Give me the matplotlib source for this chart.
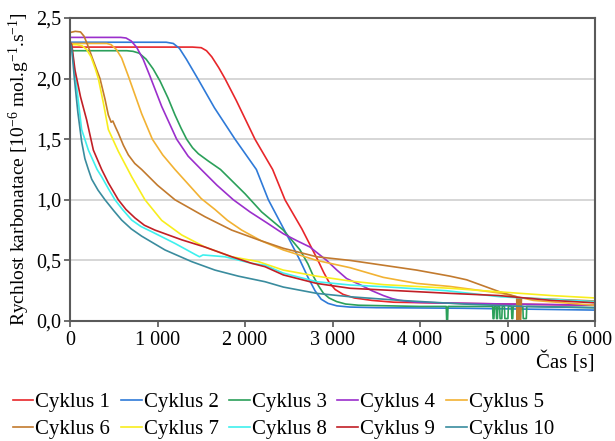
import numpy as np
import matplotlib
matplotlib.use("Agg")
import matplotlib.pyplot as plt
from matplotlib.ticker import FuncFormatter
from matplotlib.transforms import ScaledTranslation

plt.rcParams['font.family'] = ['Liberation Serif', 'DejaVu Serif']
plt.rcParams['mathtext.fontset'] = 'custom'
plt.rcParams['mathtext.rm'] = 'Liberation Serif'
plt.rcParams['mathtext.it'] = 'Liberation Serif:italic'

# time [s] / rate [1e-6 mol/g/s], one pair per cycle
c1_t = [0, 1400, 1500, 1560, 1620, 1700, 1771, 1900, 2114, 2316, 2457, 2650, 2834, 2900, 2960, 3030, 3120, 3250, 3450, 3700, 4500, 6000]
c1_v = [2.26, 2.26, 2.255, 2.23, 2.18, 2.09, 2.0, 1.82, 1.5, 1.25, 1.0, 0.76, 0.5, 0.40, 0.32, 0.26, 0.22, 0.19, 0.17, 0.155, 0.145, 0.13]

c2_t = [0, 1100, 1180, 1250, 1330, 1460, 1650, 1886, 2130, 2267, 2450, 2629, 2720, 2800, 2870, 2950, 3050, 3200, 3500, 4500, 6000]
c2_v = [2.30, 2.30, 2.29, 2.25, 2.16, 2.0, 1.76, 1.5, 1.25, 1.0, 0.75, 0.5, 0.36, 0.25, 0.18, 0.145, 0.125, 0.115, 0.11, 0.105, 0.09]

c3_t = [0, 650, 720, 790, 870, 950, 1029, 1120, 1200, 1270, 1333, 1400, 1467, 1580, 1720, 2000, 2190, 2438, 2629, 2720, 2781, 2840, 2895,
        2960, 3048, 3150, 3300, 4000,
        4300, 4305, 4315, 4320, 4830, 4835, 4845, 4850, 4870, 4875, 4885, 4890, 4910, 4915, 4935, 4940, 4965, 4970,
        5005, 5010, 5045, 5050, 5060, 5065, 5175, 5180, 5215, 5220, 6000]
c3_v = [2.23, 2.23, 2.225, 2.21, 2.16, 2.08, 1.98, 1.84, 1.70, 1.59, 1.5, 1.43, 1.38, 1.32, 1.25, 1.05, 0.90, 0.75, 0.586, 0.47, 0.37, 0.29, 0.23,
        0.19, 0.16, 0.14, 0.13, 0.12,
        0.12, 0.0, 0.0, 0.12, 0.12, 0.02, 0.02, 0.12, 0.12, 0.02, 0.02, 0.12, 0.12, 0.02, 0.02, 0.12, 0.12, 0.02,
        0.02, 0.12, 0.12, 0.02, 0.02, 0.12, 0.12, 0.02, 0.02, 0.12, 0.11]

c4_t = [0, 580, 640, 700, 760, 836, 914, 1048, 1219, 1350, 1505, 1680, 1867, 2057, 2250, 2438, 2600, 2743, 2933, 3050, 3162, 3314, 3450,
        3581, 3680, 3771, 3950, 4200, 5000, 6000]
c4_v = [2.34, 2.34, 2.335, 2.31, 2.26, 2.16, 2.02, 1.77, 1.5, 1.36, 1.246, 1.12, 1.0, 0.90, 0.81, 0.72, 0.66, 0.61, 0.50, 0.42, 0.35, 0.30, 0.25,
        0.21, 0.185, 0.17, 0.155, 0.15, 0.14, 0.13]

c5_t = [0, 420, 470, 530, 590, 667, 819, 941, 1060, 1200, 1350, 1500, 1657, 1800, 1962, 2190, 2438, 2819, 3200, 3581, 3962, 4343, 4914, 5295, 6000]
c5_v = [2.29, 2.29, 2.28, 2.24, 2.17, 2.02, 1.71, 1.5, 1.37, 1.25, 1.13, 1.01, 0.92, 0.83, 0.75, 0.66, 0.586, 0.50, 0.44, 0.36, 0.31, 0.285, 0.23, 0.17, 0.13]

c6_t = [0, 60, 120, 160, 200, 260, 343, 400, 438, 470, 490, 520, 552, 610, 667, 740, 819, 1000, 1200, 1543, 1848, 2152, 2438, 2819, 3200, 3581,
        3962, 4343, 4533, 4914, 5105, 5110, 5120, 5130, 5140, 5150, 5160, 5170, 5500, 6000]
c6_v = [2.38, 2.39, 2.385, 2.35, 2.28, 2.16, 2.0, 1.83, 1.70, 1.64, 1.65, 1.60, 1.55, 1.45, 1.37, 1.30, 1.25, 1.12, 1.0, 0.86, 0.75, 0.67, 0.60, 0.53, 0.50, 0.46,
        0.42, 0.37, 0.34, 0.24, 0.20, 0.01, 0.19, 0.01, 0.19, 0.01, 0.19, 0.19, 0.18, 0.165]

c7_t = [0, 80, 140, 190, 240, 290, 324, 381, 438, 552, 705, 857, 1048, 1276, 1543, 1848, 2152, 2438, 2819, 3200, 3581, 3962, 4343, 4914, 5500, 6000]
c7_v = [2.28, 2.28, 2.27, 2.24, 2.18, 2.08, 2.0, 1.80, 1.58, 1.40, 1.19, 1.0, 0.83, 0.71, 0.61, 0.53, 0.49, 0.42, 0.37, 0.33, 0.30, 0.285, 0.27, 0.24, 0.21, 0.19]

c8_t = [0, 20, 76, 133, 210, 310, 362, 440, 514, 600, 705, 810, 933, 1200, 1440, 1480, 1520, 1771, 2076, 2229, 2438, 2819, 3200, 3581, 4300, 4914, 6000]
c8_v = [2.30, 2.25, 1.93, 1.58, 1.41, 1.25, 1.19, 1.09, 1.0, 0.92, 0.833, 0.78, 0.737, 0.64, 0.545, 0.53, 0.545, 0.53, 0.476, 0.46, 0.395, 0.324, 0.297, 0.283, 0.25, 0.20, 0.16]

c9_t = [0, 20, 57, 120, 190, 267, 362, 438, 552, 640, 743, 850, 971, 1276, 1543, 1848, 2076, 2229, 2438, 2819, 3200, 3581, 4343, 4900, 5500, 6000]
c9_v = [2.30, 2.28, 2.07, 1.85, 1.66, 1.41, 1.25, 1.14, 1.0, 0.92, 0.85, 0.79, 0.75, 0.67, 0.61, 0.53, 0.476, 0.448, 0.38, 0.31, 0.27, 0.256, 0.228, 0.21, 0.17, 0.15]

c10_t = [0, 20, 50, 90, 133, 170, 210, 248, 320, 400, 500, 590, 700, 819, 1086, 1390, 1657, 1924, 2229, 2438, 2819, 3200, 3771, 4500, 5200, 6000]
c10_v = [2.30, 2.25, 2.0, 1.72, 1.48, 1.34, 1.25, 1.17, 1.08, 1.0, 0.91, 0.833, 0.76, 0.70, 0.586, 0.49, 0.42, 0.37, 0.324, 0.28, 0.228, 0.20, 0.17, 0.14, 0.12, 0.11]

labels = ['Cyklus %d' % i for i in range(1, 11)]
colors = ['#e8262a', '#2f7ad8', '#2ba05a', '#9b2fcc', '#f2b233',
          '#c27a2e', '#f8ee1e', '#3ff0ee', '#c11f26', '#3a8c9e']
series = [(c1_t, c1_v), (c2_t, c2_v), (c3_t, c3_v), (c4_t, c4_v), (c5_t, c5_v),
          (c6_t, c6_v), (c7_t, c7_v), (c8_t, c8_v), (c9_t, c9_v), (c10_t, c10_v)]

fig = plt.figure(figsize=(6.15, 4.41), dpi=100)
ax = fig.add_axes([70 / 615, 1 - 321 / 441, 525 / 615, 303 / 441])

lines = []
for (t, v), c, lab in zip(series, colors, labels):
    ln, = ax.plot(t, v, color=c, lw=1.2, label=lab)
    lines.append(ln)

ax.set_xlim(0, 6000)
ax.set_ylim(0, 2.5)
ax.set_xticks(np.arange(0, 6001, 1000))
ax.set_yticks(np.arange(0, 2.51, 0.5))
ax.xaxis.set_major_formatter(FuncFormatter(lambda x, p: '{:,.0f}'.format(x).replace(',', ' ')))
ax.yaxis.set_major_formatter(FuncFormatter(lambda y, p: '{:.1f}'.format(y).replace('.', ',')))
ax.tick_params(labelsize=14.5, length=4, width=1.2, color='#555555', pad=2)
ax.tick_params(axis='x', pad=3)
ax.grid(axis='y', color='#cfcfcf', lw=1.2)
ax.set_axisbelow(True)
for s in ax.spines.values():
    s.set_color('#5a5a5a')
    s.set_linewidth(1.5)

# last x label sits at the right edge of the figure, nudge it in a little
last = ax.get_xticklabels()[-1]
last.set_transform(last.get_transform() + ScaledTranslation(-0.05, 0, fig.dpi_scale_trans))

ax.set_ylabel('Rychlost karbonatace [10$^{-6}$ mol.g$^{-1}$.s$^{-1}$]', fontsize=14, labelpad=3)
fig.text(595 / 615, 1 - 362 / 441, 'Čas [s]', fontsize=15, ha='right', va='center')

order = [0, 5, 1, 6, 2, 7, 3, 8, 4, 9]
fig.legend([lines[i] for i in order], [labels[i] for i in order], ncol=5, frameon=False,
           loc='lower left', bbox_to_anchor=(0.0, -0.024), fontsize=15, handlelength=1.0,
           handletextpad=0.1, columnspacing=0.5, labelspacing=0.35, borderaxespad=0.2)

fig.savefig('out.png', dpi=100)
